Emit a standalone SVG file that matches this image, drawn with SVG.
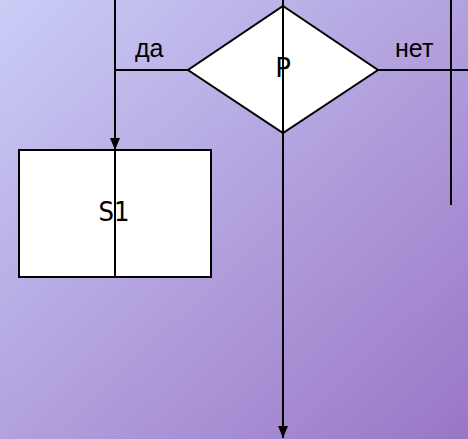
<svg xmlns="http://www.w3.org/2000/svg" width="468" height="439" viewBox="0 0 468 439">
<defs>
<linearGradient id="bg" x1="0" y1="0" x2="1" y2="1">
<stop offset="0" stop-color="#cacdf6"/>
<stop offset="1" stop-color="#9a76c6"/>
</linearGradient>
<marker id="arr" markerWidth="12" markerHeight="10" refX="12" refY="5" orient="auto" markerUnits="userSpaceOnUse" viewBox="0 0 12 10">
<path d="M0,0 L12,5 L0,10 Z" fill="#000"/>
</marker>
<style>
.shape{fill:#fff;stroke:#000;stroke-width:2}
.ln{fill:none;stroke:#000;stroke-width:2}
.t{font-family:"DejaVu Sans","Liberation Sans",sans-serif;fill:#000}
.l{font-family:"Liberation Sans",Arial,sans-serif;fill:#000}
</style>
</defs>
<rect width="468" height="439" fill="url(#bg)"/>
<g id="node-S1">
<rect class="shape" x="19" y="150" width="192" height="127"/>
<text class="t" x="114" y="221" font-size="26" text-anchor="middle" textLength="31" lengthAdjust="spacingAndGlyphs">S1</text>
</g>
<g id="node-P">
<polygon class="shape" points="283,6 378,70 283,133 188,70"/>
<text class="t" x="283" y="77" font-size="26" text-anchor="middle">P</text>
</g>
<g id="connectors">
<line class="ln" x1="115" y1="0" x2="115" y2="150" marker-end="url(#arr)"/>
<line class="ln" x1="115" y1="150" x2="115" y2="277"/>
<line class="ln" x1="115" y1="70" x2="188" y2="70"/>
<line class="ln" x1="283" y1="0" x2="283" y2="438" marker-end="url(#arr)"/>
<line class="ln" x1="378" y1="70" x2="468" y2="70"/>
<line class="ln" x1="451" y1="0" x2="451" y2="205"/>
</g>
<g id="labels">
<text class="l" x="135" y="57" font-size="25">да</text>
<text class="l" x="395" y="57" font-size="25">нет</text>
</g>
</svg>
